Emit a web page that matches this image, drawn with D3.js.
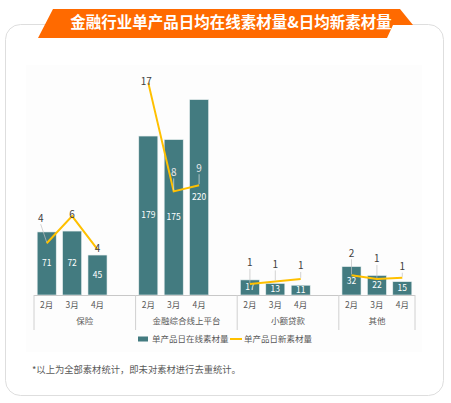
<!DOCTYPE html>
<html>
<head>
<meta charset="utf-8">
<script src="https://cdn.jsdelivr.net/npm/d3@7"></script>
<style>
  html, body { margin: 0; padding: 0; background: #fff; }
  svg text { font-family: "Noto Sans CJK SC", "Noto Sans", sans-serif; }
</style>
</head>
<body>
<div id="material-chart"></div>
<script>
// chart values
const title = "金融行业单产品日均在线素材量&日均新素材量";
const groups = ["保险", "金融综合线上平台", "小额贷款", "其他"];
const months = ["2月", "3月", "4月"];
const onlineMaterial = [[71, 72, 45], [179, 175, 220], [17, 13, 11], [32, 22, 15]];
const newMaterial = [[4.2, 6.4, 3.7], [17.2, 8.4, 8.9], [0.9, 1.1, 1.3], [1.6, 1.3, 1.4]];
const seriesNames = ["单产品日在线素材量", "单产品日新素材量"];
const footnote = "*以上为全部素材统计，即未对素材进行去重统计。";

// where the line labels sit relative to their point (dx, dy)
const labelShift = [
  [[-6, -25], [0, -2], [0, -1]],
  [[-2, -1], [0, -19], [0, -17]],
  [[0, -21], [0, -17], [0, -13]],
  [[0, -22], [0, -20], [0, -11]]
];

const barColor = "#437b80";
const lineColor = "#ffc000";
const textColor = "#595959";

const W = 451, H = 403;
const svg = d3.select("#material-chart").append("svg")
  .attr("width", W).attr("height", H);

// card + banner
svg.append("rect")
  .attr("x", 5.5).attr("y", 24.5).attr("width", 438).attr("height", 371)
  .attr("rx", 15).attr("fill", "#fff").attr("stroke", "#dedede");

svg.append("rect")
  .attr("x", 26).attr("y", 65).attr("width", 396).attr("height", 287)
  .attr("fill", "#fdfdfd");

svg.append("polygon")
  .attr("points", "53,9 400,9 413,25 393,25 387,38 38,38")
  .attr("fill", "#ff6a00");

svg.append("text")
  .attr("x", 231).attr("y", 28)
  .attr("text-anchor", "middle")
  .attr("fill", "#fff")
  .attr("font-size", 15.5)
  .attr("font-weight", "bold")
  .text(title);

// category slots: three months per group plus an empty slot between groups
const slots = [];
groups.forEach((g, gi) => {
  months.forEach((m) => slots.push(g + "|" + m));
  if (gi < groups.length - 1) slots.push("gap" + gi);
});

const x = d3.scaleBand().domain(slots).range([34, 415]).paddingInner(0.25).paddingOuter(0.125);
const y = d3.scaleLinear().domain([0, 250]).range([295, 73]);
const y2 = d3.scaleLinear().domain([0, 18]).range([295, 73]);
const half = (x.step() - x.bandwidth()) / 2;

const rows = [];
groups.forEach((g, gi) => {
  months.forEach((m, mi) => {
    rows.push({ key: g + "|" + m, group: gi, month: m, online: onlineMaterial[gi][mi], fresh: newMaterial[gi][mi], shift: labelShift[gi][mi] });
  });
});

// bars
svg.selectAll(".bar-online")
  .data(rows)
  .enter()
  .append("rect")
  .attr("class", "bar-online")
  .attr("x", (d) => x(d.key))
  .attr("width", x.bandwidth())
  .attr("y", (d) => y(d.online))
  .attr("height", (d) => y(0) - y(d.online))
  .attr("fill", barColor)
  .attr("stroke", "#e9f0f0")
  .attr("stroke-width", 0.6);

svg.selectAll(".bar-label")
  .data(rows)
  .enter()
  .append("text")
  .attr("x", (d) => x(d.key) + x.bandwidth() / 2)
  .attr("y", (d) => (y(d.online) + y(0)) / 2)
  .attr("dy", "0.35em")
  .attr("text-anchor", "middle")
  .attr("fill", "#fff")
  .attr("font-size", 8.5)
  .text((d) => d.online);

// axis line, group separators, labels
svg.append("line")
  .attr("x1", 34).attr("x2", 415).attr("y1", 295.5).attr("y2", 295.5)
  .attr("stroke", "#c8c8c8");

const bounds = groups.map((g) => x(g + "|" + months[0]) - half);
bounds.push(x(groups[groups.length - 1] + "|" + months[months.length - 1]) + x.bandwidth() + half);

svg.selectAll(".sep")
  .data(bounds)
  .enter()
  .append("line")
  .attr("x1", (d) => d).attr("x2", (d) => d)
  .attr("y1", 295).attr("y2", 330)
  .attr("stroke", "#d0d0d0");

svg.selectAll(".month-label")
  .data(rows)
  .enter()
  .append("text")
  .attr("x", (d) => x(d.key) + x.bandwidth() / 2)
  .attr("y", 305)
  .attr("dy", "0.35em")
  .attr("text-anchor", "middle")
  .attr("fill", textColor)
  .attr("font-size", 8.5)
  .text((d) => d.month);

svg.selectAll(".group-label")
  .data(groups)
  .enter()
  .append("text")
  .attr("x", (d, i) => (bounds[i] + bounds[i + 1]) / 2)
  .attr("y", 321)
  .attr("dy", "0.35em")
  .attr("text-anchor", "middle")
  .attr("fill", textColor)
  .attr("font-size", 8.5)
  .text((d) => d);

// new material line, one segment per group
const line = d3.line()
  .x((d) => x(d.key) + x.bandwidth() / 2)
  .y((d) => y2(d.fresh));

groups.forEach((g, gi) => {
  svg.append("path")
    .datum(rows.filter((d) => d.group === gi))
    .attr("d", line)
    .attr("fill", "none")
    .attr("stroke", lineColor)
    .attr("stroke-width", 2);
});

// leader lines for labels that were pulled away from their point
const cx = (d) => x(d.key) + x.bandwidth() / 2;
const overBar = (d) => y2(d.fresh) + d.shift[1] > y(d.online) + 4;

svg.selectAll(".leader")
  .data(rows.filter((d) => d.shift[1] < -8))
  .enter()
  .append("line")
  .attr("x1", (d) => cx(d) + d.shift[0])
  .attr("y1", (d) => y2(d.fresh) + d.shift[1] + 6)
  .attr("x2", (d) => cx(d))
  .attr("y2", (d) => y2(d.fresh) - 1)
  .attr("stroke", (d) => (overBar(d) ? "#d8e2e3" : "#c0c0c0"))
  .attr("stroke-width", 0.7);

svg.selectAll(".line-label")
  .data(rows)
  .enter()
  .append("text")
  .attr("x", (d) => cx(d) + d.shift[0])
  .attr("y", (d) => y2(d.fresh) + d.shift[1])
  .attr("dy", "0.35em")
  .attr("text-anchor", "middle")
  .attr("fill", (d) => (overBar(d) ? "#e8e8e8" : "#404040"))
  .attr("font-size", 10)
  .text((d) => d3.format(".0f")(d.fresh));

// legend
const legend = svg.append("g").attr("transform", "translate(138, 339)");
legend.append("rect")
  .attr("x", 0).attr("y", -2.5).attr("width", 10).attr("height", 5)
  .attr("fill", barColor);
legend.append("text")
  .attr("x", 14).attr("dy", "0.35em")
  .attr("fill", textColor).attr("font-size", 8.5)
  .text(seriesNames[0]);
legend.append("line")
  .attr("x1", 92).attr("x2", 104).attr("y1", 0).attr("y2", 0)
  .attr("stroke", lineColor).attr("stroke-width", 2);
legend.append("text")
  .attr("x", 106).attr("dy", "0.35em")
  .attr("fill", textColor).attr("font-size", 8.5)
  .text(seriesNames[1]);

// footnote
svg.append("text")
  .attr("x", 32).attr("y", 370)
  .attr("dy", "0.35em")
  .attr("fill", textColor)
  .attr("font-size", 9.3)
  .text(footnote);
</script>
</body>
</html>
